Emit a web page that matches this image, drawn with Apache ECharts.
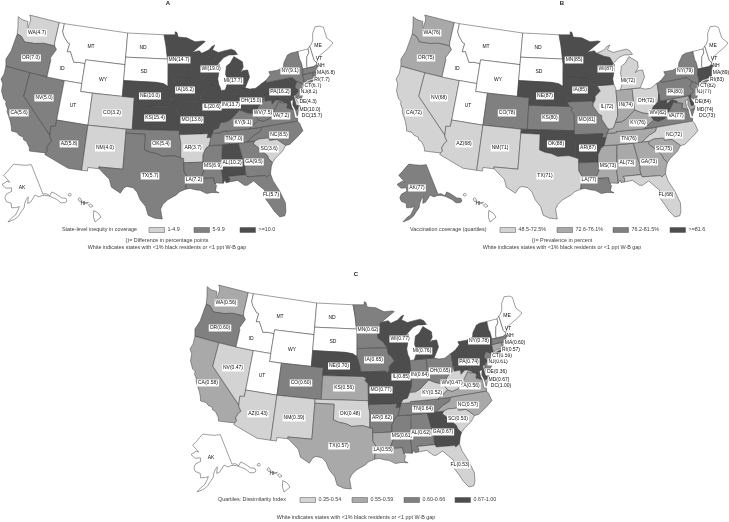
<!DOCTYPE html>
<html><head><meta charset="utf-8">
<script src="https://cdn.jsdelivr.net/npm/echarts@6/dist/echarts.min.js"></script>
<style>html,body{margin:0;padding:0;background:#fff}#c{width:729px;height:522px}</style>
</head><body><div id="c"></div>
<script>
// ---------- data ----------
const states = ['WA','OR','CA','NV','ID','MT','WY','UT','CO','AZ','NM','ND','SD','NE','KS','OK','TX','MN','IA','MO','AR','LA','MS','AL','TN','KY','IL','IN','OH','MI','WI','PA','NY','NJ','DE','MD','DC','VA','WV','NC','SC','GA','FL','CT','RI','MA','VT','NH','ME','AK','HI'];
const labelsA = ['4.7','7.0','5.6','5.0','','','','','3.2','5.8','4.0','','','10.0','15.4','5.4','5.7','14.7','16.2','13.6','3.7','7.2','6.9','10.2','7.0','9.1','20.6','13.7','15.0','17.7','19.0','16.2','9.1','8.2','4.3','10.0','15.7','7.2','7.5','8.5','3.6','9.5','5.7','6.7','7.7','6.8','','','','',''];
const classA  = [1,2,2,2,0,0,0,0,1,2,1,0,0,3,3,2,2,3,3,3,1,2,2,3,2,2,3,3,3,3,3,3,2,2,1,3,3,2,2,2,1,2,2,2,2,2,0,0,0,0,0];
const labelsB = ['76','75','72','68','','','','','78','68','71','','','87','80','88','71','85','85','81','87','77','73','73','76','76','72','74','72','72','87','80','79','77','84','74','73','77','82','72','75','73','68','82','83','89','','','','77',''];
const classB  = [2,2,1,1,0,0,0,0,3,1,1,0,0,4,3,4,1,4,4,3,4,3,2,2,2,2,1,2,1,1,4,3,3,3,4,2,2,3,4,1,2,2,1,4,4,4,0,0,0,3,0];
const labelsC = ['0.56','0.60','0.58','0.47','','','','','0.60','0.43','0.39','','','0.70','0.56','0.48','0.57','0.62','0.65','0.77','0.62','0.55','0.61','0.62','0.64','0.52','0.85','0.64','0.65','0.76','0.77','0.74','0.78','0.61','0.36','0.67','1.00','0.56','0.47','0.57','0.53','0.67','0.53','0.59','0.57','0.60','','','','',''];
const classC  = [2,3,2,1,0,0,0,0,3,1,1,0,0,4,2,1,2,3,3,4,3,2,3,3,3,1,4,3,3,4,4,4,4,3,1,4,4,2,1,2,1,4,1,2,2,3,0,0,0,0,0];
const classColors = ['#ffffff','#d3d3d3','#a9a9a9','#808080','#4d4d4d'];
const classColorsA = ['#ffffff','#d3d3d3','#808080','#4d4d4d'];
const titles = ['A','B','C'];
const legendTitles = ['State-level inequity in coverage','Vaccination coverage (quartiles)','Quartiles: Dissimilarity Index'];
const legendA = ['1-4.9','5-9.9','>=10.0'];
const legendB = ['48.5-72.5%','72.6-76.1%','76.2-81.5%','>=81.6'];
const legendC = ['0.35-0.54','0.55-0.59','0.60-0.66','0.67-1.00'];
const noteA = '()= Difference in percentage points';
const noteB = '()= Prevalence in percent';
const noteWhite = 'White indicates states with <1% black residents or <1 ppt W-B gap';

// ---------- state outlines (lon, lat) ----------
const shapes = {
WA:[[[-122.76,49],[-117.03,49],[-117.04,46.42],[-116.92,45.99],[-118.98,46],[-119.3,45.93],[-120.5,45.7],[-121.2,45.65],[-122.3,45.55],[-122.8,45.9],[-123.2,46.15],[-123.95,46.25],[-124.1,46.7],[-124.15,47],[-124.4,47.6],[-124.73,48.38],[-123.9,48.17],[-123.1,48.15],[-122.75,48.15],[-122.6,47.5],[-122.35,47.4],[-122.4,47.9],[-122.3,48.3],[-122.5,48.75]]],
OR:[[[-124.2,42],[-124.55,42.84],[-124.1,44],[-124.05,45],[-123.95,46.25],[-123.2,46.15],[-122.8,45.9],[-122.3,45.55],[-121.2,45.65],[-120.5,45.7],[-119.3,45.93],[-118.98,46],[-116.92,45.99],[-116.46,45.6],[-116.85,44.95],[-117.2,44.4],[-117.03,44.2],[-117.03,42],[-120,42]]],
CA:[[[-124.2,42],[-120,42],[-120,39],[-114.63,35],[-114.57,34.8],[-114.14,34.3],[-114.45,34],[-114.72,33.4],[-114.5,33],[-114.72,32.72],[-117.12,32.53],[-117.3,33],[-117.9,33.6],[-118.4,33.75],[-118.5,34.03],[-119.2,34.15],[-119.6,34.42],[-120.47,34.45],[-120.65,34.9],[-121,35.5],[-121.9,36.6],[-122,36.95],[-122.5,37.5],[-122.5,37.8],[-123,38],[-123.7,38.9],[-123.85,39.8],[-124.35,40.3],[-124.1,41]]],
NV:[[[-120,42],[-117.03,42],[-114.04,42],[-114.04,36.2],[-114.75,36.1],[-114.63,35],[-120,39]]],
ID:[[[-117.03,49],[-116.05,49],[-116.05,48],[-115.7,47.5],[-114.7,46.7],[-114.35,46.65],[-114.5,45.6],[-113.95,45.7],[-113.45,45.05],[-113,44.45],[-112.3,44.55],[-111.5,44.55],[-111.05,44.48],[-111.05,42],[-114.04,42],[-117.03,42],[-117.03,44.2],[-117.2,44.4],[-116.85,44.95],[-116.46,45.6],[-116.92,45.99],[-117.04,46.42]]],
MT:[[[-116.05,49],[-104.05,49],[-104.05,45],[-111.05,45],[-111.05,44.48],[-111.5,44.55],[-112.3,44.55],[-113,44.45],[-113.45,45.05],[-113.95,45.7],[-114.5,45.6],[-114.35,46.65],[-114.7,46.7],[-115.7,47.5],[-116.05,48]]],
WY:[[[-111.05,45],[-104.05,45],[-104.05,41],[-111.05,41]]],
UT:[[[-114.04,42],[-111.05,42],[-111.05,41],[-109.05,41],[-109.05,37],[-114.04,37]]],
CO:[[[-109.05,41],[-102.05,41],[-102.05,37],[-109.05,37]]],
AZ:[[[-114.04,37],[-109.05,37],[-109.05,31.33],[-111.07,31.33],[-114.8,32.5],[-114.72,32.72],[-114.5,33],[-114.72,33.4],[-114.45,34],[-114.14,34.3],[-114.57,34.8],[-114.63,35],[-114.75,36.1],[-114.04,36.2]]],
NM:[[[-109.05,37],[-103,37],[-103.05,32],[-106.62,32],[-106.53,31.78],[-108.2,31.78],[-108.2,31.33],[-109.05,31.33]]],
ND:[[[-104.05,49],[-97.23,49],[-96.85,47.6],[-96.56,45.94],[-104.05,45.94]]],
SD:[[[-104.05,45.94],[-96.56,45.94],[-96.45,45.3],[-96.45,43.5],[-96.45,42.5],[-97.2,42.85],[-98.5,43],[-104.05,43]]],
NE:[[[-104.05,43],[-98.5,43],[-97.2,42.85],[-96.45,42.5],[-96.1,41.7],[-95.9,41.2],[-95.85,40.7],[-95.31,40],[-102.05,40],[-102.05,41],[-104.05,41]]],
KS:[[[-102.05,40],[-95.31,40],[-94.9,39.8],[-95.1,39.5],[-94.61,39.1],[-94.62,37],[-102.05,37]]],
OK:[[[-103,37],[-94.62,37],[-94.62,36.5],[-94.43,35.4],[-94.48,33.64],[-95.5,33.9],[-96.6,33.85],[-97.2,33.8],[-98.1,34.13],[-99.2,34.3],[-100,34.56],[-100,36.5],[-103,36.5]]],
TX:[[[-106.62,32],[-103.05,32],[-103,36.5],[-100,36.5],[-100,34.56],[-99.2,34.3],[-98.1,34.13],[-97.2,33.8],[-96.6,33.85],[-95.5,33.9],[-94.48,33.64],[-94.04,33.55],[-94.04,33],[-94.04,32],[-93.55,31.2],[-93.75,30.3],[-93.85,29.7],[-94.7,29.4],[-95.2,29],[-96.4,28.4],[-97.1,27.8],[-97.4,27.2],[-97.15,25.96],[-98.2,26.05],[-99.1,26.4],[-99.5,27.5],[-100.3,28.3],[-100.8,29.25],[-101.4,29.77],[-102.3,29.88],[-102.7,29.7],[-103.15,28.98],[-104.5,29.65],[-104.9,30.6],[-106,31.4],[-106.53,31.78]]],
MN:[[[-97.23,49],[-95.15,49],[-95.15,49.38],[-94.8,49.3],[-94.6,48.72],[-93,48.6],[-91.5,48.05],[-90,48.1],[-89.6,48],[-91,47.3],[-92.05,46.75],[-92.3,46.65],[-92.3,46.1],[-92.85,45.6],[-92.75,44.75],[-91.9,44.3],[-91.25,43.5],[-96.45,43.5],[-96.45,45.3],[-96.56,45.94],[-96.85,47.6]]],
IA:[[[-96.45,43.5],[-91.25,43.5],[-91.1,42.7],[-90.65,42.5],[-90.15,41.8],[-91.05,41.2],[-91.1,40.7],[-91.42,40.38],[-91.73,40.61],[-95.77,40.58],[-95.85,40.7],[-95.9,41.2],[-96.1,41.7],[-96.45,42.5]]],
MO:[[[-95.77,40.58],[-91.73,40.61],[-91.42,40.38],[-91.5,40],[-90.7,39],[-90.2,38.75],[-90.2,38.3],[-89.5,37.3],[-89.15,37],[-89.5,36.5],[-89.7,36],[-90.37,36],[-90.15,36.5],[-94.62,36.5],[-94.62,37],[-94.61,39.1],[-95.1,39.5],[-94.9,39.8],[-95.31,40]]],
AR:[[[-94.62,36.5],[-90.15,36.5],[-90.37,36],[-89.7,36],[-90.1,35],[-90.6,34.7],[-91.1,33.9],[-91.17,33],[-94.04,33],[-94.04,33.55],[-94.48,33.64],[-94.43,35.4]]],
LA:[[[-94.04,33],[-91.17,33],[-91.1,32.5],[-90.9,32.3],[-91.6,31],[-89.75,31],[-89.6,30.2],[-89.4,30],[-89.6,29.3],[-89.1,29.05],[-90.1,29.15],[-90.9,29.05],[-91.8,29.5],[-92.3,29.55],[-93.2,29.78],[-93.85,29.7],[-93.75,30.3],[-93.55,31.2],[-94.04,32]]],
MS:[[[-90.1,35],[-88.2,35],[-88.1,34.9],[-88.47,31.9],[-88.4,30.2],[-89.4,30.3],[-89.6,30.2],[-89.75,31],[-91.6,31],[-90.9,32.3],[-91.1,32.5],[-91.17,33],[-91.1,33.9],[-90.6,34.7]]],
AL:[[[-88.2,35],[-85.6,35],[-85.18,32.87],[-84.95,32.3],[-85.05,31.55],[-85,31],[-87.6,31],[-87.4,30.65],[-87.5,30.3],[-88,30.25],[-88.1,30.6],[-88.4,30.2],[-88.47,31.9],[-88.1,34.9]]],
TN:[[[-89.5,36.5],[-88.05,36.5],[-88.05,36.65],[-83.68,36.6],[-81.68,36.59],[-82,36.1],[-83,35.75],[-84.3,35],[-85.6,35],[-88.2,35],[-90.1,35],[-89.7,36]]],
KY:[[[-89.5,36.5],[-89.15,37],[-88.5,37.1],[-88.05,37.8],[-87.1,37.8],[-86.3,38.1],[-85.4,38.7],[-84.8,39.1],[-83.7,38.65],[-82.6,38.4],[-82,37.55],[-81.97,37.53],[-83.68,36.6],[-88.05,36.65],[-88.05,36.5]]],
IL:[[[-90.65,42.5],[-87.8,42.5],[-87.55,42],[-87.53,41.7],[-87.53,39.35],[-87.65,38.5],[-88.05,37.8],[-88.5,37.1],[-89.15,37],[-89.5,37.3],[-90.2,38.3],[-90.2,38.75],[-90.7,39],[-91.5,40],[-91.42,40.38],[-91.1,40.7],[-91.05,41.2],[-90.15,41.8]]],
IN:[[[-87.53,41.7],[-87.2,41.75],[-86.8,41.76],[-84.8,41.76],[-84.8,39.1],[-85.4,38.7],[-86.3,38.1],[-87.1,37.8],[-88.05,37.8],[-87.65,38.5],[-87.53,39.35]]],
OH:[[[-84.8,41.76],[-83.45,41.73],[-82.7,41.5],[-81.7,41.5],[-80.52,42],[-80.52,40.64],[-80.85,39.7],[-81.7,39.2],[-82.2,38.6],[-82.6,38.4],[-83.7,38.65],[-84.8,39.1]]],
MI:[[[-86.8,41.76],[-84.8,41.76],[-83.45,41.73],[-83.15,42.1],[-82.45,43],[-82.6,43.9],[-83.4,43.9],[-83.9,43.7],[-83.3,44.3],[-83.3,45],[-84.7,45.78],[-85.5,45],[-86.2,44.7],[-86.5,43.7],[-86.2,42.8]],[[-90.4,46.55],[-89.1,46.9],[-88.4,47.35],[-87.9,47.47],[-88.4,46.9],[-87.4,46.5],[-86.2,46.65],[-85,46.75],[-84.4,46.5],[-84,46],[-84.75,46],[-85.5,46.05],[-86.5,45.8],[-87.6,45.1],[-88.1,45.9],[-89.1,46.1]]],
WI:[[[-92.3,46.65],[-92.05,46.75],[-90.8,46.9],[-90.4,46.55],[-89.1,46.1],[-88.1,45.9],[-87.6,45.1],[-87.95,44.7],[-87.4,45],[-87.5,44.3],[-87.9,43.2],[-87.8,42.5],[-90.65,42.5],[-91.1,42.7],[-91.25,43.5],[-91.9,44.3],[-92.75,44.75],[-92.85,45.6],[-92.3,46.1]]],
PA:[[[-80.52,42],[-79.76,42.27],[-79.76,42],[-75.35,42],[-74.7,41.35],[-75.1,40.95],[-75.2,40.7],[-74.75,40.2],[-75.4,39.8],[-75.79,39.72],[-79.48,39.72],[-80.52,39.72],[-80.52,40.64]]],
NY:[[[-79.76,42.27],[-78.9,42.85],[-79.05,43.27],[-77.5,43.25],[-76.4,43.5],[-76.2,44],[-75.3,44.85],[-74.7,45],[-73.35,45],[-73.4,44],[-73.25,43.55],[-73.25,42.75],[-73.5,42.05],[-73.5,41.3],[-73.65,41],[-73.9,40.8],[-74,41],[-74.7,41.35],[-75.35,42],[-79.76,42]],[[-74,40.6],[-73.7,40.9],[-72.3,41.15],[-71.9,41.05],[-73,40.63]]],
NJ:[[[-74.7,41.35],[-74,41],[-74.25,40.5],[-74,40.45],[-74.1,39.75],[-74.8,39],[-75.5,39.5],[-75.4,39.8],[-74.75,40.2],[-75.2,40.7],[-75.1,40.95]]],
DE:[[[-75.79,39.72],[-75.4,39.8],[-75.5,39.3],[-75.05,38.45],[-75.7,38.45]]],
MD:[[[-79.48,39.72],[-75.79,39.72],[-75.7,38.45],[-75.05,38.45],[-75.25,38.03],[-75.95,37.95],[-76.2,38.6],[-76,39.3],[-76.45,39.15],[-76.45,38.5],[-76.3,38.05],[-77,38.3],[-77.25,38.4],[-77.04,38.79],[-76.91,38.89],[-77.04,39],[-77.12,38.93],[-77.5,39.1],[-77.75,39.3],[-78.4,39.6],[-78.8,39.6],[-79.48,39.2]]],
DC:[[[-77.12,38.93],[-77.04,39],[-76.91,38.89],[-77.04,38.79]]],
VA:[[[-83.68,36.6],[-81.68,36.59],[-76,36.55],[-75.9,36.9],[-76.3,37],[-76.3,38.05],[-77,38.3],[-77.25,38.4],[-77.04,38.79],[-77.12,38.93],[-77.5,39.1],[-77.83,39.13],[-78.35,39.4],[-78.9,38.8],[-79.3,38.4],[-80.3,37.5],[-81.3,37.3],[-81.97,37.53]],[[-75.95,37.95],[-75.25,38.03],[-75.9,37.15]]],
WV:[[[-82.6,38.4],[-82.2,38.6],[-81.7,39.2],[-80.85,39.7],[-80.52,40.64],[-80.52,39.72],[-79.48,39.72],[-79.48,39.2],[-78.8,39.6],[-78.4,39.6],[-77.75,39.3],[-77.83,39.13],[-78.35,39.4],[-78.9,38.8],[-79.3,38.4],[-80.3,37.5],[-81.3,37.3],[-81.97,37.53],[-82,37.55]]],
NC:[[[-84.3,35],[-83,35.75],[-82,36.1],[-81.68,36.59],[-76,36.55],[-75.75,36.2],[-75.5,35.25],[-76.5,34.65],[-77.9,33.9],[-78.55,33.86],[-79.67,34.8],[-80.8,34.82],[-80.9,35.1],[-81.05,35.15],[-82.4,35.2],[-83.1,35]]],
SC:[[[-83.1,35],[-82.4,35.2],[-81.05,35.15],[-80.9,35.1],[-80.8,34.82],[-79.67,34.8],[-78.55,33.86],[-79.2,33.2],[-80.4,32.5],[-80.9,32.05],[-81.4,32.6],[-81.5,33],[-82.5,34],[-83.35,34.7]]],
GA:[[[-85.6,35],[-84.3,35],[-83.1,35],[-83.35,34.7],[-82.5,34],[-81.5,33],[-81.4,32.6],[-80.9,32.05],[-81.2,31.5],[-81.45,30.7],[-82.05,30.36],[-82.2,30.57],[-84.86,30.7],[-85,31],[-85.05,31.55],[-84.95,32.3],[-85.18,32.87]]],
FL:[[[-87.6,31],[-85,31],[-84.86,30.7],[-82.2,30.57],[-82.05,30.36],[-81.45,30.7],[-81.25,29.8],[-80.55,28.4],[-80.03,26.8],[-80.15,25.75],[-80.4,25.2],[-81.1,25.15],[-81.75,26],[-82.1,26.7],[-82.75,27.8],[-82.65,28.8],[-83.4,29.5],[-84,30.1],[-85,29.65],[-85.4,29.7],[-86.3,30.4],[-87.5,30.3],[-87.4,30.65]]],
CT:[[[-73.5,42.05],[-71.8,42.02],[-71.85,41.32],[-72.9,41.25],[-73.65,41],[-73.5,41.3]]],
RI:[[[-71.8,42.02],[-71.38,42.02],[-71.12,41.5],[-71.85,41.32]]],
MA:[[[-73.5,42.05],[-73.25,42.75],[-72.46,42.73],[-71.3,42.7],[-70.8,42.87],[-70.6,42.65],[-71,42.3],[-70.55,41.8],[-70.05,42.05],[-69.95,41.67],[-70.65,41.55],[-71.12,41.5],[-71.38,42.02],[-71.8,42.02]]],
VT:[[[-73.35,45],[-71.5,45],[-71.55,44.5],[-72.05,44.1],[-72.45,43.1],[-72.46,42.73],[-73.25,42.75],[-73.25,43.55],[-73.4,44]]],
NH:[[[-71.5,45],[-71.08,45.3],[-70.98,43.4],[-70.7,43.07],[-70.8,42.87],[-71.3,42.7],[-72.46,42.73],[-72.45,43.1],[-72.05,44.1],[-71.55,44.5]]],
ME:[[[-71.08,45.3],[-70.8,45.4],[-70.3,45.9],[-70,46.7],[-69.25,47.45],[-68.3,47.35],[-67.8,47.07],[-67.8,45.7],[-67,44.85],[-68,44.4],[-69,44.1],[-70,43.75],[-70.7,43.07],[-70.98,43.4]]],
AK:[[[-141,69.65],[-141,60.3],[-139,60],[-137.5,59],[-135.5,59.7],[-134,58.8],[-131.8,56.6],[-130,55.9],[-130.2,55],[-131.5,54.9],[-133.5,55.5],[-134.7,57],[-136.5,58.2],[-138,59],[-140,59.7],[-142,60],[-144,60],[-146,60.9],[-148,60.1],[-150,59.3],[-151.8,59.2],[-150.5,61],[-152,60.5],[-153.5,59.5],[-154.5,58.2],[-156.5,57.2],[-158.5,56],[-161,55.2],[-164.5,54.6],[-162,55.9],[-160,56.5],[-158,58],[-157.2,58.8],[-159,58.6],[-162,58.7],[-162,60],[-165,60.6],[-166,61.7],[-164.8,62.8],[-161,63.5],[-161,64.5],[-165,64.5],[-168,65.6],[-164,66.5],[-162,66.2],[-163.8,67.1],[-166.7,68.3],[-163,69.5],[-160,70.5],[-156.6,71.35],[-152,70.8],[-146,70.1]]],
HI:[[[-159.8,22.05],[-159.5,22.23],[-159.3,22.05],[-159.45,21.87],[-159.75,21.95]],[[-158.28,21.55],[-158,21.7],[-157.65,21.3],[-158.1,21.3]],[[-157.3,21.1],[-156.7,21.17],[-156.9,21.05]],[[-156.7,20.9],[-156.4,21],[-156,20.75],[-156.4,20.6]],[[-155.9,20.25],[-155.2,19.95],[-154.8,19.5],[-155.7,18.95],[-155.95,19.5]]]
};

// ---------- label anchors in panel pixels (same for all panels) ----------
const anchors = {ME:[318,46],VT:[319,59],NH:[321,66],MA:[326,73],RI:[322,80],CT:[313,86],NJ:[309,92],DE:[308,102],MD:[310,110],DC:[312,116],
  AK:[22,188],HI:[83,204],
  WA:[37,33],OR:[31,58],ID:[62,69],MT:[91,47],ND:[143,48],SD:[144,72],WY:[103,80],NE:[150,96],UT:[73,106],NV:[44,98],CO:[112,113],KS:[155,118],CA:[19,113],
  MN:[179,60],WI:[211,69],MI:[233,81],IA:[185,90],IL:[212,107],IN:[231,105],OH:[251,101],PA:[280,92],NY:[290,71],WV:[263,113],VA:[281,116],KY:[243,123],MO:[192,120],
  AZ:[69,144],NM:[105,148],OK:[161,144],AR:[193,148],TN:[234,139],NC:[279,135],SC:[269,149],GA:[254,162],AL:[232,163],MS:[213,166],LA:[194,180],TX:[150,176],FL:[271,195]};

// ---------- projection into panel pixels ----------
const rad = Math.PI/180;
function conic(lon0,lat0,p1,p2){
  const n=(Math.sin(p1*rad)+Math.sin(p2*rad))/2, C=Math.cos(p1*rad)**2+2*n*Math.sin(p1*rad);
  const rho=l=>Math.sqrt(C-2*n*Math.sin(l*rad))/n, r0=rho(lat0);
  return ([lon,lat])=>{const t=n*(lon-lon0)*rad,r=rho(lat);return [r*Math.sin(t),r0-r*Math.cos(t)];};
}
// q[1] is "north positive"; the result is in panel pixels with y growing downward
function fit(proj,names,x0,x1,y0,y1){
  let a=1e9,b=-1e9,c=1e9,d=-1e9;
  names.forEach(s=>shapes[s].forEach(r=>r.forEach(p=>{const q=proj(p);a=Math.min(a,q[0]);b=Math.max(b,q[0]);c=Math.min(c,q[1]);d=Math.max(d,q[1]);})));
  return p=>{const q=proj(p);return [x0+(q[0]-a)/(b-a)*(x1-x0),y0+(d-q[1])/(d-c)*(y1-y0)];};
}
const lower48 = states.filter(s=>s!=='AK'&&s!=='HI');
const pMain = fit(conic(-96,37.5,29.5,45.5),lower48,1,333,15,219);
const pAK = fit(conic(-167,60,55,70),['AK'],2,67,164,222);
const pHI = fit(([x,y])=>[x,y],['HI'],68,101,193,222);
// y is negated so that ECharts' latitude flip leaves panel pixels unchanged
const toFeature = s=>{
  const pr = s==='AK'?pAK:s==='HI'?pHI:pMain;
  const props = {name:s};
  if(anchors[s]) props.cp=[anchors[s][0],-anchors[s][1]];
  return {type:'Feature',properties:props,geometry:{type:'MultiPolygon',coordinates:shapes[s].map(r=>{
    const ring=r.map(p=>{const q=pr(p);return [q[0],-q[1]];}); ring.push(ring[0]); return [ring];})}};
};
const geo = {type:'FeatureCollection',features:states.map(toFeature)};
['A','B','C'].forEach(k=>echarts.registerMap('usa'+k,geo));

// ---------- panels ----------
const panelDX=[0,395,189], panelDY=[0,0,270];
const bbox=[1,333,15,222];
const TEXT='#3c3c3c', FONT='"Liberation Sans",Arial,sans-serif';
const makeSeries=(i,labels,classes,colors)=>({
  type:'map',map:'usa'+titles[i],aspectScale:1,roam:false,silent:true,selectedMode:false,
  layoutCenter:[(bbox[0]+bbox[1])/2+panelDX[i],(bbox[2]+bbox[3])/2+panelDY[i]],
  layoutSize:bbox[1]-bbox[0],
  itemStyle:{borderColor:'#3f3f3f',borderWidth:0.5,areaColor:'#fff'},
  label:{show:true,fontFamily:FONT,fontSize:5,color:'#111',backgroundColor:'#fff',padding:[0.5,1,0.5,1],lineHeight:6,
    formatter:p=>p.data&&p.data.text||p.name},
  emphasis:{disabled:true},
  data:states.map((s,k)=>({name:s,value:classes[k],text:labels[k]?s+'('+labels[k]+')':s,
    itemStyle:{areaColor:colors[classes[k]]},
    label:labels[k]?{}:{backgroundColor:'transparent'}}))
});
const txt=(x,y,t,o)=>({type:'text',x,y,silent:true,style:Object.assign({text:t,fontFamily:FONT,fontSize:5.4,fill:TEXT,textVerticalAlign:'middle'},o||{})});
const swatch=(x,y,c)=>({type:'rect',x,y:y-2.5,silent:true,shape:{width:15.5,height:5},style:{fill:c,stroke:'#555',lineWidth:0.5}});
const graphics=[];
[[168,3],[562,3],[356,274]].forEach((p,i)=>graphics.push(txt(p[0],p[1],titles[i],{fontWeight:'bold',fontSize:6,textAlign:'center',fill:'#222'})));
const legendRow=(y,title,tx,items,sw,cols)=>{
  graphics.push(txt(tx,y,title));
  items.forEach((t,i)=>{graphics.push(swatch(sw[i],y,cols[i+1]));graphics.push(txt(sw[i]+18.5,y,t));});
};
legendRow(230,legendTitles[0],62,legendA,[149,194,240],classColorsA);
legendRow(230,legendTitles[1],410,legendB,[500,557,613,670],classColors);
legendRow(500,legendTitles[2],218,legendC,[300,352,404,455],classColors);
graphics.push(txt(167,241,noteA,{textAlign:'center'}),txt(167,247.5,noteWhite,{textAlign:'center'}));
graphics.push(txt(562,241,noteB,{textAlign:'center'}),txt(562,247.5,noteWhite,{textAlign:'center'}));
graphics.push(txt(356,518,noteWhite,{textAlign:'center'}));

echarts.init(document.getElementById('c'),null,{renderer:'canvas'}).setOption({
  animation:false,backgroundColor:'#fff',
  graphic:graphics,
  series:[makeSeries(0,labelsA,classA,classColorsA),makeSeries(1,labelsB,classB,classColors),makeSeries(2,labelsC,classC,classColors)]
});
</script></body></html>
